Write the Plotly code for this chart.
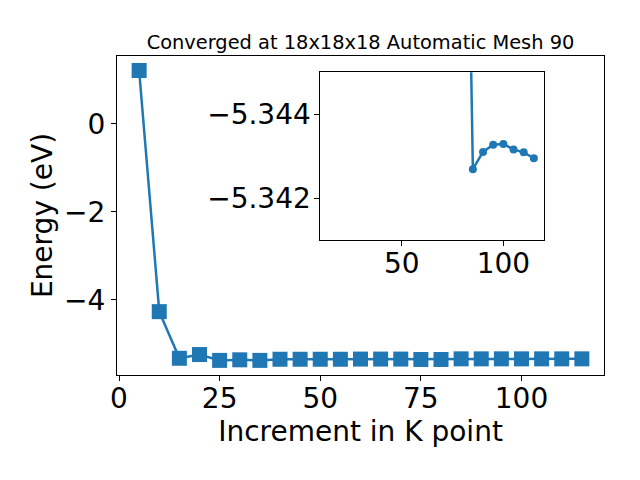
import plotly.graph_objects as go

k_points = [5, 10, 15, 20, 25, 30, 35, 40, 45, 50, 55, 60, 65, 70, 75, 80,
            85, 90, 95, 100, 105, 110, 115]
energy = [1.21, -4.27, -5.33, -5.245, -5.378, -5.365, -5.378, -5.352, -5.352,
          -5.352, -5.352, -5.348, -5.348, -5.348, -5.357, -5.357,
          -5.34269, -5.3431, -5.34327, -5.34329, -5.34316, -5.34309, -5.34295]

# the inset zooms in on the tail of the scan (from 80 onwards)
inset_start = 15
inset_k = k_points[inset_start:]
inset_energy = energy[inset_start:]

main_xticks = [0, 25, 50, 75, 100]
main_yticks = [-4, -2, 0]
main_yticktext = ["\u22124", "\u22122", "0"]
inset_xticks = [50, 100]
inset_yticks = [-5.344, -5.342]
inset_yticktext = ["\u22125.344", "\u22125.342"]

title_text = "Converged at 18x18x18 Automatic Mesh 90"
xlabel = "Increment in K point"
ylabel = "Energy (eV)"

color = "#1f77b4"
font = "DejaVu Sans"

fig = go.Figure()
fig.add_trace(go.Scatter(
    x=k_points, y=energy, mode="lines+markers",
    line=dict(color=color, width=2.5),
    marker=dict(symbol="square", size=15, color=color),
    xaxis="x", yaxis="y", showlegend=False, cliponaxis=False))
fig.add_trace(go.Scatter(
    x=inset_k, y=inset_energy, mode="lines+markers",
    line=dict(color=color, width=2.5),
    marker=dict(symbol="circle", size=8, color=color),
    xaxis="x2", yaxis="y2", showlegend=False, cliponaxis=True))

axis_common = dict(showline=True, mirror=True, linecolor="black", linewidth=1,
                   ticks="outside", ticklen=5, tickcolor="black", tickwidth=1,
                   showgrid=False, zeroline=False, automargin=False,
                   tickfont=dict(family=font, size=28, color="black"))

# page body has an 8px margin, so the figure is 8px smaller on each side
W, H = 632, 472
fig.update_layout(
    width=W, height=H,
    margin=dict(l=109, r=36, t=48, b=105),
    paper_bgcolor="white", plot_bgcolor="white",
    font=dict(family=font, color="black"),
    title=dict(text=title_text, x=0.5, xref="paper", xanchor="center",
               y=1 - 34 / H, yref="container", yanchor="middle",
               font=dict(family=font, size=19.4, color="black")),
    xaxis=dict(domain=[0, 1], range=[-0.5, 120.5], tickmode="array",
               tickvals=main_xticks, anchor="y", ticklabelstandoff=-7,
               title=dict(text=xlabel, font=dict(family=font, size=28, color="black"),
                          standoff=4),
               **axis_common),
    yaxis=dict(domain=[0, 1], range=[-5.71, 1.54], tickmode="array",
               tickvals=main_yticks, ticktext=main_yticktext, anchor="x",
               title=dict(text=ylabel, font=dict(family=font, size=28, color="black"),
                          standoff=3),
               **axis_common),
    xaxis2=dict(domain=[0.4177, 0.8768], range=[10, 120], tickmode="array",
                tickvals=inset_xticks, anchor="y2", ticklabelstandoff=-7,
                **axis_common),
    yaxis2=dict(domain=[0.4232, 0.949], range=[-5.341, -5.345], tickmode="array",
                tickvals=inset_yticks, ticktext=inset_yticktext, anchor="x2",
                ticklabelstandoff=-2,
                **axis_common),
)

fig.write_html("out.html")
